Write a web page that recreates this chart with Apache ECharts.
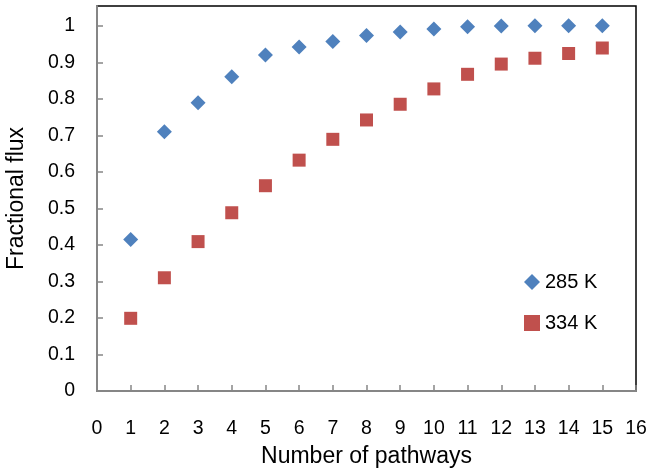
<!DOCTYPE html>
<html>
<head>
<meta charset="utf-8">
<script src="https://cdn.jsdelivr.net/npm/echarts@6/dist/echarts.min.js"></script>
<style>
html,body{margin:0;padding:0;background:#fff;}
#chart{width:654px;height:476px;}
</style>
</head>
<body>
<div id="chart"></div>
<script>
const pathways = [1, 2, 3, 4, 5, 6, 7, 8, 9, 10, 11, 12, 13, 14, 15];
const flux285 = [0.415, 0.710, 0.789, 0.860, 0.920, 0.942, 0.957, 0.973, 0.983, 0.991, 0.997, 0.999, 1.0, 1.0, 1.0];
const flux334 = [0.199, 0.310, 0.409, 0.488, 0.562, 0.632, 0.689, 0.742, 0.785, 0.827, 0.867, 0.895, 0.911, 0.924, 0.939];
const seriesNames = ['285 K', '334 K'];
const xTitle = 'Number of pathways';
const yTitle = 'Fractional flux';

const FONT = 'Liberation Sans';
const chart = echarts.init(document.getElementById('chart'));
chart.setOption({
  animation: false,
  backgroundColor: '#fff',
  textStyle: { fontFamily: FONT, color: '#000' },
  grid: {
    left: 97, right: 18, top: 6, bottom: 85,
    show: true, borderColor: '#000', borderWidth: 1.5,
    outerBoundsMode: 'none'
  },
  legend: {
    orient: 'vertical', left: 524, top: 272, padding: 0,
    itemWidth: 16, itemHeight: 16, itemGap: 21,
    textStyle: { fontFamily: FONT, fontSize: 20, color: '#000', lineHeight: 20 },
    data: [
      { name: seriesNames[0], icon: 'diamond', itemStyle: { color: '#4F81BD', opacity: 1 } },
      { name: seriesNames[1], icon: 'rect', itemStyle: { color: '#C0504D', opacity: 1 } }
    ]
  },
  xAxis: {
    type: 'value', min: 0, max: 16, interval: 1,
    name: xTitle, nameLocation: 'middle', nameGap: 54,
    nameTextStyle: { fontFamily: FONT, fontSize: 23, color: '#000' },
    axisLine: { show: true, lineStyle: { color: '#868686', width: 2 } },
    axisTick: { show: true, inside: true, length: 6, lineStyle: { color: '#868686', width: 1.5 } },
    axisLabel: { margin: 28, fontSize: 19.5, color: '#000', fontFamily: FONT },
    splitLine: { show: false }
  },
  yAxis: {
    type: 'value', min: 0, max: 1.054, interval: 0.1,
    name: yTitle, nameLocation: 'middle', nameGap: 69, nameRotate: 90,
    nameTextStyle: { fontFamily: FONT, fontSize: 23, color: '#000' },
    axisLine: { show: true, lineStyle: { color: '#868686', width: 2 } },
    axisTick: { show: true, inside: true, length: 6, lineStyle: { color: '#868686', width: 1.5 } },
    axisLabel: { margin: 22, fontSize: 19.5, color: '#000', fontFamily: FONT, showMaxLabel: false },
    splitLine: { show: false }
  },
  series: [
    {
      name: seriesNames[0], type: 'scatter', symbol: 'diamond', symbolSize: 15,
      itemStyle: { color: '#4F81BD', opacity: 1 },
      data: pathways.map((x, i) => [x, flux285[i]])
    },
    {
      name: seriesNames[1], type: 'scatter', symbol: 'rect', symbolSize: 13,
      itemStyle: { color: '#C0504D', opacity: 1 },
      data: pathways.map((x, i) => [x, flux334[i]])
    }
  ]
});
</script>
</body>
</html>
